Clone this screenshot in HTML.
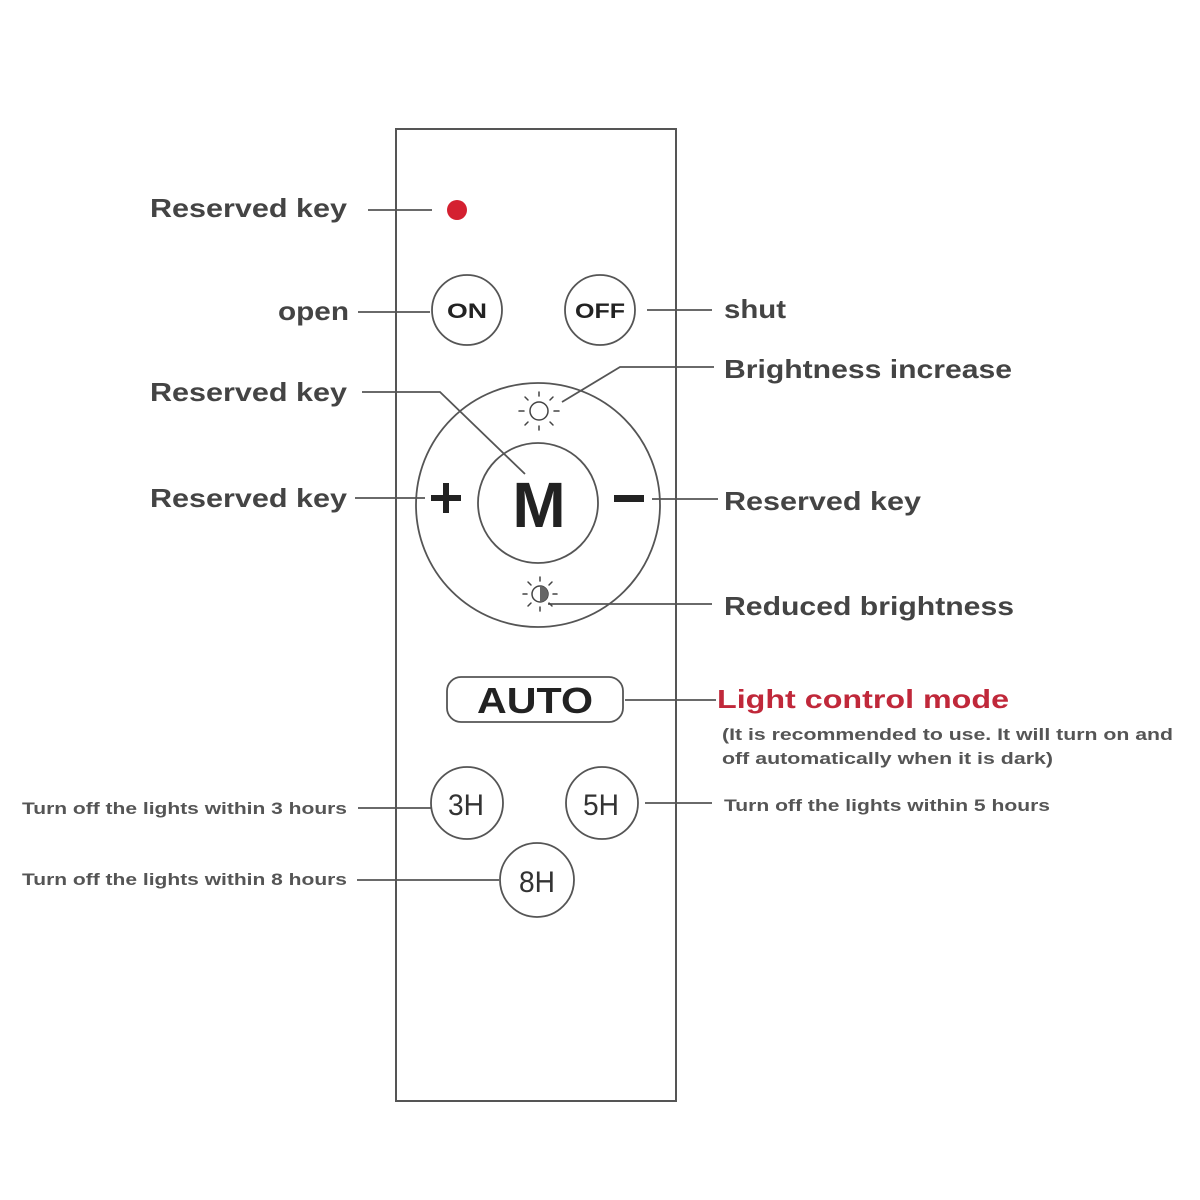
<!DOCTYPE html>
<html><head><style>html,body{margin:0;padding:0;background:#fff}svg{display:block}</style></head>
<body>
<svg width="1200" height="1200" viewBox="0 0 1200 1200" xmlns="http://www.w3.org/2000/svg" font-family="Liberation Sans, sans-serif">
<rect x="396" y="129" width="280" height="972" fill="none" stroke="#555" stroke-width="2"/>
<g stroke="#555" stroke-width="1.8" fill="none">
<line x1="368" y1="210" x2="432" y2="210"/>
<line x1="358" y1="312" x2="430" y2="312"/>
<line x1="647" y1="310" x2="712" y2="310"/>
<polyline points="562,402 620,367 714,367"/>
<polyline points="362,392 440,392 525,474"/>
<line x1="355" y1="498" x2="425" y2="498"/>
<line x1="652" y1="499" x2="718" y2="499"/>
<line x1="548" y1="604" x2="712" y2="604"/>
<line x1="625" y1="700" x2="716" y2="700"/>
<line x1="358" y1="808" x2="431" y2="808"/>
<line x1="645" y1="803" x2="712" y2="803"/>
<line x1="357" y1="880" x2="499" y2="880"/>
<circle cx="467" cy="310" r="35"/>
<circle cx="600" cy="310" r="35"/>
<circle cx="538" cy="505" r="122"/>
<circle cx="538" cy="503" r="60"/>
<rect x="447" y="677" width="176" height="45" rx="14"/>
<circle cx="467" cy="803" r="36"/>
<circle cx="602" cy="803" r="36"/>
<circle cx="537" cy="880" r="37"/>
</g>
<circle cx="457" cy="210" r="10" fill="#d42030"/>
<!-- sun -->
<g stroke="#444" stroke-width="1.5" fill="none">
<circle cx="539" cy="411" r="9"/>
<g stroke-linecap="round">
<line x1="539" y1="396" x2="539" y2="392"/><line x1="539" y1="426" x2="539" y2="430"/>
<line x1="524" y1="411" x2="519" y2="411"/><line x1="554" y1="411" x2="559" y2="411"/>
<line x1="528" y1="400" x2="525" y2="397"/><line x1="550" y1="422" x2="553" y2="425"/>
<line x1="528" y1="422" x2="525" y2="425"/><line x1="550" y1="400" x2="553" y2="397"/>
</g>
<circle cx="540" cy="594" r="8"/>
<g stroke-linecap="round">
<line x1="540" y1="581" x2="540" y2="577"/><line x1="540" y1="607" x2="540" y2="611"/>
<line x1="527" y1="594" x2="523" y2="594"/><line x1="553" y1="594" x2="557" y2="594"/>
<line x1="531" y1="585" x2="528" y2="582"/><line x1="549" y1="603" x2="552" y2="606"/>
<line x1="531" y1="603" x2="528" y2="606"/><line x1="549" y1="585" x2="552" y2="582"/>
</g>
</g>
<path d="M540 586 A8 8 0 0 1 540 602 Z" fill="#666"/>
<g fill="#222" font-weight="bold" text-anchor="middle">
<text x="467" y="318" font-size="21" textLength="40" lengthAdjust="spacingAndGlyphs">ON</text>
<text x="600" y="318" font-size="21" textLength="50" lengthAdjust="spacingAndGlyphs">OFF</text>
<text x="539" y="527" font-size="64">M</text>
<text x="535" y="713" font-size="36" textLength="116" lengthAdjust="spacingAndGlyphs">AUTO</text>
</g>
<rect x="431" y="495" width="30" height="6" fill="#222"/>
<rect x="443" y="483" width="6" height="30" fill="#222"/>
<rect x="614" y="495" width="30" height="7" fill="#222"/>
<g fill="#333" font-size="30" text-anchor="middle">
<text x="466" y="815" textLength="36" lengthAdjust="spacingAndGlyphs">3H</text>
<text x="601" y="815" textLength="36" lengthAdjust="spacingAndGlyphs">5H</text>
<text x="537" y="892" textLength="36" lengthAdjust="spacingAndGlyphs">8H</text>
</g>
<g fill="#444" font-size="26" font-weight="bold" lengthAdjust="spacingAndGlyphs">
<text x="150" y="217" textLength="197" lengthAdjust="spacingAndGlyphs">Reserved key</text>
<text x="278" y="320" textLength="71" lengthAdjust="spacingAndGlyphs">open</text>
<text x="724" y="318" textLength="62" lengthAdjust="spacingAndGlyphs">shut</text>
<text x="724" y="378" textLength="288" lengthAdjust="spacingAndGlyphs">Brightness increase</text>
<text x="150" y="401" textLength="197" lengthAdjust="spacingAndGlyphs">Reserved key</text>
<text x="150" y="507" textLength="197" lengthAdjust="spacingAndGlyphs">Reserved key</text>
<text x="724" y="510" textLength="197" lengthAdjust="spacingAndGlyphs">Reserved key</text>
<text x="724" y="615" textLength="290" lengthAdjust="spacingAndGlyphs">Reduced brightness</text>
</g>
<text x="717" y="708" fill="#c0283a" font-size="26" font-weight="bold" textLength="292" lengthAdjust="spacingAndGlyphs">Light control mode</text>
<g fill="#555" font-size="17" font-weight="bold">
<text x="722" y="740" textLength="451" lengthAdjust="spacingAndGlyphs">(It is recommended to use. It will turn on and</text>
<text x="722" y="764" textLength="331" lengthAdjust="spacingAndGlyphs">off automatically when it is dark)</text>
<text x="22" y="814" textLength="325" lengthAdjust="spacingAndGlyphs">Turn off the lights within 3 hours</text>
<text x="724" y="811" textLength="326" lengthAdjust="spacingAndGlyphs">Turn off the lights within 5 hours</text>
<text x="22" y="885" textLength="325" lengthAdjust="spacingAndGlyphs">Turn off the lights within 8 hours</text>
</g>
</svg>
</body></html>
